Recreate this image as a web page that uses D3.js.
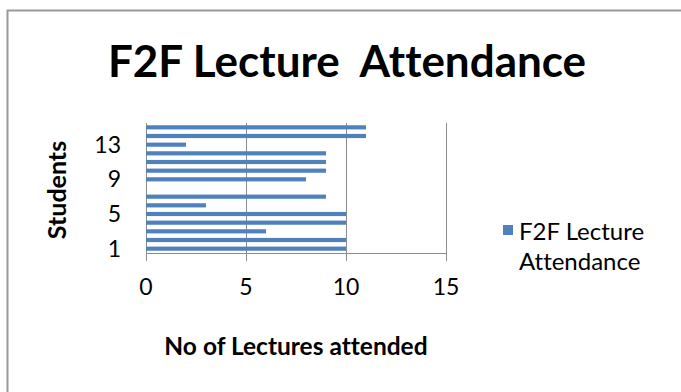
<!DOCTYPE html>
<html>
<head>
<meta charset="utf-8">
<script src="https://cdn.jsdelivr.net/npm/d3@7"></script>
<style>
  html, body { margin: 0; padding: 0; background: #fff; }
  svg { display: block; }
  text { font-family: Lato, "Open Sans", sans-serif; fill: #000; white-space: pre;
         font-variant-ligatures: none; font-feature-settings: "liga" 0, "clig" 0; }
</style>
</head>
<body>
<svg id="chart" width="681" height="392"></svg>
<script>
// Lectures attended per student (student 1 at the bottom)
const students = [1, 2, 3, 4, 5, 6, 7, 8, 9, 10, 11, 12, 13, 14, 15];
const lectures = [10, 10, 6, 10, 10, 3, 9, 0, 8, 9, 9, 9, 2, 11, 11];
const xTicks = [0, 5, 10, 15];
const yTickLabels = [1, 5, 9, 13];
const seriesName = "F2F Lecture Attendance";
const chartTitle = "F2F Lecture  Attendance";
const xTitle = "No of Lectures attended";
const yTitle = "Students";

const barColor = "#4F81BD";
const gridColor = "#8c8c8c";

const svg = d3.select("#chart");

// chart frame
svg.append("rect")
  .attr("x", 7.5).attr("y", 10.5)
  .attr("width", 700).attr("height", 400)
  .attr("fill", "#fff")
  .attr("stroke", "#9a9a9a").attr("stroke-width", 2);

const plot = { left: 146, right: 446, top: 123, bottom: 253 };

const x = d3.scaleLinear().domain([0, 15]).range([plot.left, plot.right]);
const y = d3.scaleBand()
  .domain(students)
  .range([plot.bottom, plot.top])
  .paddingInner(0.52).paddingOuter(0.26);

// vertical gridlines with ticks below the axis
const xAxis = d3.axisBottom(x).tickValues(xTicks).tickSize(-(plot.bottom - plot.top)).tickFormat("");
const gx = svg.append("g").attr("transform", `translate(0,${plot.bottom})`).call(xAxis);
gx.select(".domain").remove();
gx.selectAll(".tick line").attr("stroke", gridColor).attr("y2", -(plot.bottom - plot.top)).attr("y1", 8);

// horizontal axis line
svg.append("line")
  .attr("x1", plot.left).attr("x2", plot.right)
  .attr("y1", plot.bottom + 0.5).attr("y2", plot.bottom + 0.5)
  .attr("stroke", gridColor);

// bars
svg.append("g").selectAll("rect")
  .data(students.map((s, i) => ({ s, v: lectures[i] })))
  .join("rect")
  .attr("x", plot.left)
  .attr("y", d => y(d.s))
  .attr("width", d => x(d.v) - x(0))
  .attr("height", y.bandwidth())
  .attr("fill", barColor);

// x tick labels
svg.append("g").selectAll("text")
  .data(xTicks)
  .join("text")
  .attr("x", d => x(d))
  .attr("y", 295)
  .attr("text-anchor", "middle")
  .style("font-size", "23px")
  .text(d => d);

// y tick labels
svg.append("g").selectAll("text")
  .data(yTickLabels)
  .join("text")
  .attr("x", 121)
  .attr("y", d => y(d) + y.bandwidth() / 2 + 8)
  .attr("text-anchor", "end")
  .style("font-size", "23px")
  .text(d => d);

// title
svg.append("text")
  .attr("x", 347).attr("y", 77)
  .attr("text-anchor", "middle")
  .style("font-size", "44px").style("font-weight", "bold")
  .text(chartTitle);

// axis titles
svg.append("text")
  .attr("x", (plot.left + plot.right) / 2).attr("y", 355)
  .attr("text-anchor", "middle")
  .style("font-size", "24.5px").style("font-weight", "bold")
  .text(xTitle);

svg.append("text")
  .attr("transform", "translate(66,190) rotate(-90)")
  .attr("text-anchor", "middle")
  .style("font-size", "25px").style("font-weight", "bold")
  .text(yTitle);

// legend
const legend = svg.append("g").attr("transform", "translate(503,225)");
legend.append("rect").attr("width", 10).attr("height", 10).attr("fill", barColor);
const words = seriesName.split(" ");
legend.append("text")
  .attr("x", 16).attr("y", 15)
  .style("font-size", "24px")
  .selectAll("tspan")
  .data([words.slice(0, 2).join(" "), words.slice(2).join(" ")])
  .join("tspan")
  .attr("x", 16)
  .attr("dy", (d, i) => i === 0 ? 0 : 30)
  .text(d => d);
</script>
</body>
</html>
